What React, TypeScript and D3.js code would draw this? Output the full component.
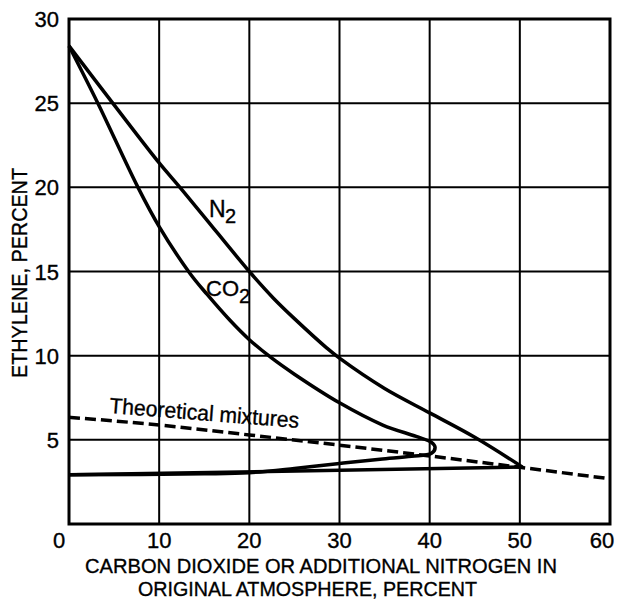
import * as d3 from 'd3';

// axis ticks
const xTicks = [0, 10, 20, 30, 40, 50, 60];
const yTicks = [5, 10, 15, 20, 25, 30];

// N2 envelope: upper limit curve and lower limit line
const n2UpperX = [0, 5, 10, 12.3, 15, 20, 22.7, 25, 28.6, 30, 35, 40, 45, 50.3];
const n2UpperY = [28.4, 24.9, 21.45, 20.0, 18.25, 15.0, 13.4, 12.2, 10.45, 9.85, 8.05, 6.6, 5.15, 3.38];
const n2LowerX = [50.3, 0];
const n2LowerY = [3.38, 2.92];

// CO2 envelope, upper branch round the nose and back along the lower branch
const co2X = [0, 3.2, 7.65, 10, 13.4, 15.3, 17.85, 20, 22.5, 25, 30, 34.8, 38.5, 40.2, 40.6, 40.2, 38, 34.5, 30, 25, 20, 15, 0];
const co2Y = [28.4, 25, 20, 17.67, 14.9, 13.65, 12.1, 10.95, 9.85, 8.9, 7.2, 5.88, 5.2, 4.85, 4.55, 4.2, 4.02, 3.85, 3.6, 3.3, 3.05, 2.98, 2.92];

// theoretical mixtures (dashed)
const theoX = [0, 10, 20, 34.5, 50, 59.8];
const theoY = [6.34, 5.88, 5.29, 4.4, 3.37, 2.7];

const W = 618;
const H = 599;
const left = 69, right = 610, top = 19, bottom = 524;

const font = '"Liberation Sans", Arial, sans-serif';

export default function App() {
    const x = d3.scaleLinear().domain([0, 60]).range([left, right]);
    const y = d3.scaleLinear().domain([0, 30]).range([bottom, top]);

    const zip = (xs: number[], ys: number[]) => xs.map((v, i) => [v, ys[i]] as [number, number]);

    const curve = d3.line<[number, number]>()
        .x(d => x(d[0]))
        .y(d => y(d[1]))
        .curve(d3.curveCatmullRom.alpha(0.5));
    const straight = d3.line<[number, number]>()
        .x(d => x(d[0]))
        .y(d => y(d[1]));
    const smooth = d3.line<[number, number]>()
        .x(d => x(d[0]))
        .y(d => y(d[1]))
        .curve(d3.curveMonotoneX);

    // small nudges so the end labels sit like the original
    const xLabelShift: Record<number, number> = { 0: -10, 60: -8 };

    return (
        <svg width={W} height={H} style={{ position: 'absolute', left: 0, top: 0, background: '#fff' }}
            fontFamily={font} stroke="none">
            <rect x={0} y={0} width={W} height={H} fill="#fff" />

            {/* grid */}
            {xTicks.slice(1, -1).map(t => (
                <line key={'gx' + t} x1={x(t)} x2={x(t)} y1={top} y2={bottom} stroke="#000" strokeWidth={2} />
            ))}
            {yTicks.slice(0, -1).map(t => (
                <line key={'gy' + t} x1={left} x2={right} y1={y(t)} y2={y(t)} stroke="#000" strokeWidth={2} />
            ))}
            <rect x={left} y={top} width={right - left} height={bottom - top} fill="none" stroke="#000" strokeWidth={3} />

            {/* curves */}
            <path d={curve(zip(n2UpperX, n2UpperY)) || ''} fill="none" stroke="#000" strokeWidth={3.5} strokeLinejoin="round" />
            <path d={straight(zip(n2LowerX, n2LowerY)) || ''} fill="none" stroke="#000" strokeWidth={3.5} strokeLinejoin="round" />
            <path d={curve(zip(co2X, co2Y)) || ''} fill="none" stroke="#000" strokeWidth={3.5} strokeLinejoin="round" />
            <path d={smooth(zip(theoX, theoY)) || ''} fill="none" stroke="#000" strokeWidth={3.5} strokeDasharray="11,5" />

            <g fill="#000" stroke="#000" strokeWidth={0.35}>
                {/* series labels */}
                <text x={209} y={217} fontSize={23}>N<tspan x={225} y={223} fontSize={20}>2</tspan></text>
                <text x={206} y={296} fontSize={22}>CO<tspan x={239} y={303} fontSize={20}>2</tspan></text>
                <text x={109} y={413} fontSize={22} textLength={190} lengthAdjust="spacingAndGlyphs"
                    transform="rotate(4.5 109 413)">Theoretical mixtures</text>

                {/* tick labels */}
                {xTicks.map(t => (
                    <text key={'xl' + t} x={x(t)} dx={xLabelShift[t] || 0} y={548} fontSize={22} textAnchor="middle">{t}</text>
                ))}
                {yTicks.map(t => (
                    <text key={'yl' + t} x={59} y={y(t) + 8} fontSize={22} textAnchor="end">{t}</text>
                ))}

                {/* axis titles */}
                <text x={85} y={572.5} fontSize={21} textLength={472} lengthAdjust="spacingAndGlyphs">
                    CARBON DIOXIDE OR ADDITIONAL NITROGEN IN
                </text>
                <text x={138} y={596} fontSize={21} textLength={339} lengthAdjust="spacingAndGlyphs">
                    ORIGINAL ATMOSPHERE, PERCENT
                </text>
                <text transform="translate(27,273) rotate(-90)" fontSize={22} textAnchor="middle"
                    textLength={210} lengthAdjust="spacingAndGlyphs">ETHYLENE, PERCENT</text>
            </g>
        </svg>
    );
}
